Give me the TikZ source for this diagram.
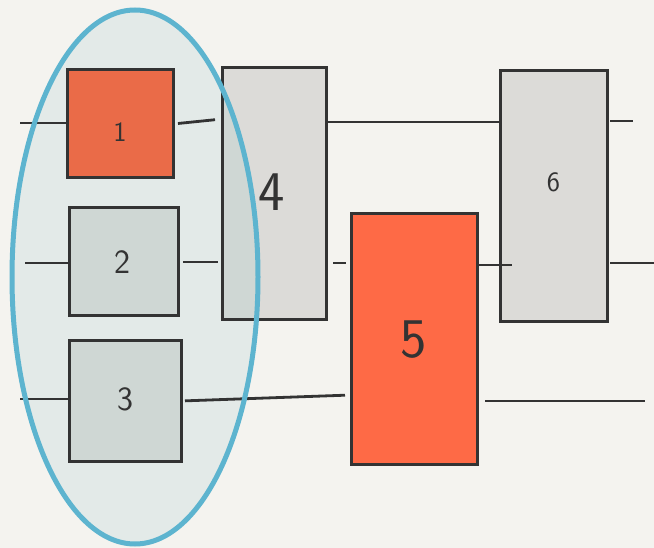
\documentclass[tikz,border=0pt]{standalone}
\usepackage{fontspec}
\definecolor{paper}{HTML}{F4F3EF}
\definecolor{groupfill}{HTML}{E3EAE8}
\definecolor{groupline}{HTML}{5DB4CF}
\definecolor{orangeA}{HTML}{EA6B48}
\definecolor{orangeB}{HTML}{FE6A46}
\definecolor{grayin}{HTML}{CFD7D4}
\definecolor{grayout}{HTML}{DCDBD8}
\definecolor{ink}{HTML}{333333}
\begin{document}
\begin{tikzpicture}[x=1pt,y=-1pt,
  gate/.style={draw=ink, line width=3pt, inner sep=0pt, outer sep=0pt, rectangle},
  wire/.style={draw=ink, line width=2.8pt},
  lbl/.style={text=ink, font=\sffamily, inner sep=0pt}]
  % page
  \fill[paper] (0,0) rectangle (654,548);
  \useasboundingbox (0,0) rectangle (654,548);

  % group outline (fill behind the gates)
  \fill[groupfill] (135,277) ellipse [x radius=123, y radius=267];

  % gates
  \node[gate, fill=orangeA, minimum width=106pt, minimum height=108pt] (b1) at (120,124) {};
  \node[gate, fill=grayin,  minimum width=109pt, minimum height=108pt] (b2) at (123.5,262) {};
  \node[gate, fill=grayin,  minimum width=112pt, minimum height=120pt] (b3) at (125,401) {};
  \node[gate, fill=grayout, minimum width=104pt, minimum height=252pt] (b4) at (274,194) {};
  \node[gate, fill=orangeB, minimum width=126pt, minimum height=250pt] (b5) at (414,339) {};
  \node[gate, fill=grayout, minimum width=107pt, minimum height=251pt] (b6) at (553.5,196.5) {};

  % part of gate 4 lying inside the group
  \begin{scope}
    \clip (135,277) ellipse [x radius=123, y radius=267];
    \fill[grayin] (b4.north west) rectangle (b4.south east);
  \end{scope}
  \draw[ink, line width=3pt] (b4.north west) rectangle (b4.south east);

  % gate labels
  \node[lbl, font=\sffamily\fontsize{28}{28}\selectfont] (l1) at ([yshift=-8pt]b1.center) {1};
  \node[lbl, font=\sffamily\fontsize{34}{34}\selectfont] (l2) at ([xshift=-1pt]b2.center) {2};
  \node[lbl, font=\sffamily\fontsize{34}{34}\selectfont] (l3) at ([yshift=2pt]b3.center) {3};
  \node[lbl, font=\sffamily\fontsize{56}{56}\selectfont] (l4) at ([xshift=-2pt,yshift=2pt]b4.center) {4};
  \node[lbl, font=\sffamily\fontsize{56}{56}\selectfont] (l5) at ([yshift=-1pt]b5.center) {5};
  \node[lbl, font=\sffamily\fontsize{28}{28}\selectfont] (l6) at ([yshift=14pt]b6.center) {6};

  % wire levels
  \coordinate (in1) at (20,123);
  \coordinate (in2) at (25,263);
  \coordinate (in3) at (20,399);
  \coordinate (r1) at (0,122);
  \coordinate (r2) at (0,265);
  \coordinate (r3) at (0,395);
  \coordinate (out1) at (633,121);
  \coordinate (out2) at (654,263);
  \coordinate (out3) at (645,401);

  % wire 1
  \draw[wire] (in1) -- (b1.west |- in1);
  \draw[wire, shorten <=5pt, shorten >=7pt] (b1.east) -- ([yshift=75pt]b4.west);
  \draw[wire] (b4.east |- r1) -- (b6.west |- r1);
  \draw[wire, shorten <=3pt] (b6.east |- out1) -- (out1);
  % wire 2
  \draw[wire] (in2) -- (b2.west |- in2);
  \draw[wire, shorten <=5pt, shorten >=4pt] (b2.east) -- (b4.west |- b2.east);
  \draw[wire, shorten <=7pt, shorten >=5pt] (b4.east |- in2) -- (b5.west |- in2);
  \draw[wire, shorten >=-12pt] (b5.east |- r2) -- (b6.west |- r2);
  \draw[wire, shorten <=3pt] (b6.east |- out2) -- (out2);
  % wire 3
  \draw[wire] (in3) -- (b3.west |- in3);
  \draw[wire, shorten <=4pt, shorten >=6pt] (b3.east) -- (b5.west |- r3);
  \draw[wire, shorten <=8pt] (b5.east |- out3) -- (out3);

  % group border on top
  \draw[groupline, line width=5pt] (135,277) ellipse [x radius=123, y radius=267];
\end{tikzpicture}
\end{document}
